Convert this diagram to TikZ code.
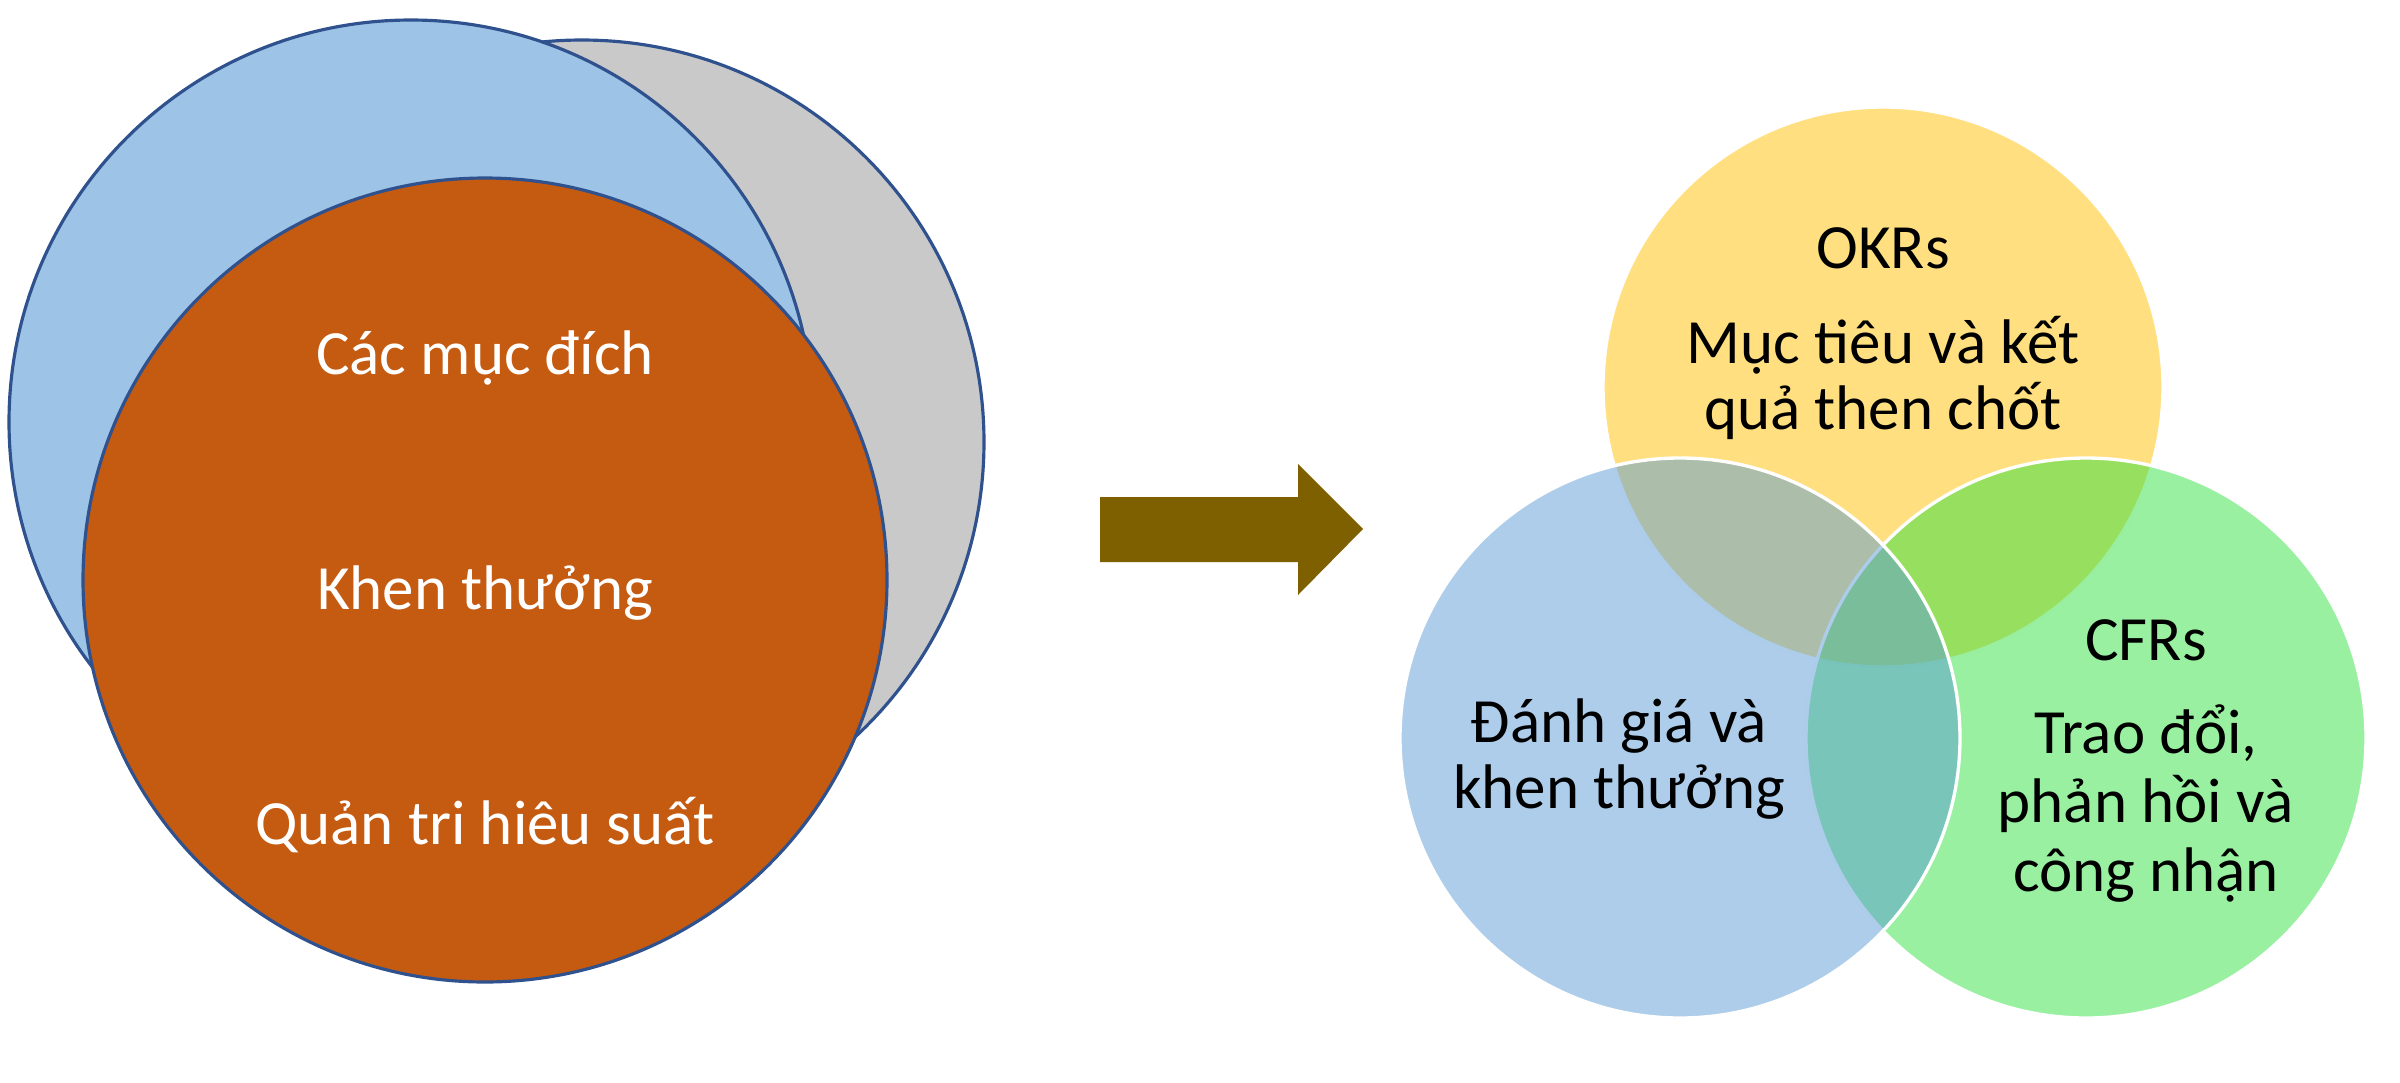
\documentclass[tikz,border=0pt]{standalone}
\usepackage{fontspec}
\setmainfont{Carlito}
\definecolor{lblue}{HTML}{9DC3E6}
\definecolor{lgray}{HTML}{C9C9C9}
\definecolor{lorange}{HTML}{C55A11}
\definecolor{ledge}{HTML}{2F528F}
\definecolor{arrowcol}{HTML}{7F6000}
\definecolor{vyellow}{HTML}{FFC000}
\definecolor{vblue}{HTML}{5B9BD5}
\definecolor{vgreen}{HTML}{31E141}
\begin{document}
\begin{tikzpicture}[x=0.3pt,y=-0.3pt,
  bigcirc/.style={circle,inner sep=0pt,minimum size=241.2pt,draw=ledge,line width=0.95pt},
  venn/.style={circle,inner sep=0pt,minimum size=168pt,draw=white,line width=1pt,fill opacity=0.5},
  wtxt/.style={anchor=base,text=white,inner sep=0pt,font=\fontsize{18.9}{22}\selectfont},
  btxt/.style={anchor=base,text=black,inner sep=0pt,font=\fontsize{18.9}{22}\selectfont}]
\useasboundingbox (0,0) rectangle (2400,1083);
% left diagram
\node[bigcirc,fill=lgray] (gray) at (582,442) {};
\node[bigcirc,fill=lblue] (blue) at (411,422) {};
\node[bigcirc,fill=lorange] (orange) at (485,580) {};
\node[wtxt] (t1) at (485,374) {Các mục đích};
\node[wtxt] (t2) at (485,609) {Khen thưởng};
\node[wtxt] (t3) at (485,844) {Quản tri hiêu suất};
% arrow
\fill[arrowcol] (1100,497) -- (1298,497) -- (1298,464) -- (1363,529) -- (1298,595) -- (1298,562) -- (1100,562) -- cycle;
% venn
\node[venn,fill=vyellow] (okr) at (1883,387) {};
\node[venn,fill=vgreen] (cfr) at (2086,738) {};
\node[venn,fill=vblue] (eval) at (1680,738) {};
\node[btxt] (o1) at (1883,268) {OKRs};
\node[btxt] (o2) at (1883,363) {Mục tiêu và kết};
\node[btxt] (o3) at (1883,429) {quả then chốt};
\node[btxt] (e1) at (1619,742) {Đánh giá và};
\node[btxt] (e2) at (1619,808) {khen thưởng};
\node[btxt] (c1) at (2146,660) {CFRs};
\node[btxt] (c2) at (2146,753) {Trao đổi,};
\node[btxt] (c3) at (2146,822) {phản hồi và};
\node[btxt] (c4) at (2146,891) {công nhận};
\end{tikzpicture}
\end{document}
